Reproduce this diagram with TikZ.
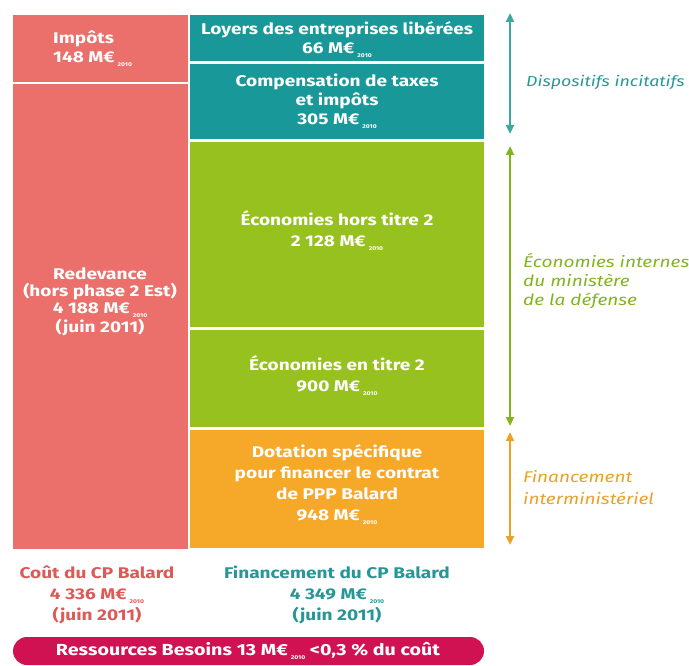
\documentclass[tikz,border=0pt]{standalone}
\usepackage{fontspec}
\setmainfont{Fira Sans}[FakeStretch=1.23]
\usetikzlibrary{arrows.meta}
\definecolor{salmon}{RGB}{235,111,106}
\definecolor{tealb}{RGB}{24,152,152}
\definecolor{greenb}{RGB}{150,193,30}
\definecolor{orangeb}{RGB}{246,168,41}
\definecolor{pillc}{RGB}{208,18,82}
\definecolor{tealt}{RGB}{40,150,150}
\definecolor{tealarr}{RGB}{60,168,158}
\definecolor{greent}{RGB}{130,180,30}
\definecolor{oranget}{RGB}{235,160,40}
\definecolor{salmont}{RGB}{220,90,88}
\newcommand\yr{\hspace{3pt}{\fontsize{5.5}{5.5}\selectfont\raisebox{-4pt}{2010}}}
\begin{document}
\begin{tikzpicture}[x=1pt,y=-1pt,
  boxtxt/.style={text=white,font=\fontsize{15.5}{19}\selectfont\bfseries,align=center,inner sep=0pt},
  sidelbl/.style={font=\fontsize{15.5}{19}\selectfont\itshape,align=left,anchor=west,inner sep=0pt},
  botlbl/.style={font=\fontsize{15.5}{21}\selectfont\bfseries,align=center,inner sep=0pt},
  dblarrow/.style={line width=2.8pt,{Triangle[width=8pt,length=9pt]}-{Triangle[width=8pt,length=9pt]}}]
\useasboundingbox (0,0) rectangle (689,666);
% left column
\fill[salmon] (13,15) rectangle (188,82);
\fill[salmon] (13,84) rectangle (188,549);
% right column
\fill[tealb] (190,15) rectangle (484,61);
\fill[tealb] (190,64) rectangle (484,139);
\fill[greenb] (190,142) rectangle (484,327);
\fill[greenb] (190,330) rectangle (484,427);
\fill[orangeb] (190,430) rectangle (484,548);
% texts in boxes
\node[boxtxt,align=left,anchor=west] (imp) at (53,49) {Impôts\\148 M€\yr};
\node[boxtxt,font=\fontsize{15.5}{17}\selectfont\bfseries] (red) at (100,302) {Redevance\\(hors phase 2 Est)\\4 188 M€\yr\\(juin 2011)};
\node[boxtxt] (loy) at (337,40) {Loyers des entreprises libérées\\66 M€\yr};
\node[boxtxt] (comp) at (337,101) {Compensation de taxes\\et impôts\\305 M€\yr};
\node[boxtxt,font=\fontsize{15.5}{21}\selectfont\bfseries] (eco1) at (337,231) {Économies hors titre 2\\2 128 M€\yr};
\node[boxtxt,font=\fontsize{15.5}{21}\selectfont\bfseries] (eco2) at (337,376) {Économies en titre 2\\900 M€\yr};
\node[boxtxt,font=\fontsize{15.5}{21}\selectfont\bfseries] (dot) at (337,485) {Dotation spécifique\\pour financer le contrat\\de PPP Balard\\948 M€\yr};
% arrows
\coordinate (t1) at (510,13); \coordinate (t2) at (510,134);
\coordinate (g1) at (510,146); \coordinate (g2) at (510,426);
\coordinate (o1) at (510,432); \coordinate (o2) at (510,545);
\draw[dblarrow,tealarr] (t1) -- (t2);
\draw[dblarrow,greent] (g1) -- (g2);
\draw[dblarrow,oranget] (o1) -- (o2);
% side labels
\node[sidelbl,text=tealt,font=\fontsize{14.5}{17}\selectfont\itshape] (lab1) at (526,82) {Dispositifs incitatifs};
\node[sidelbl,text=greent] (lab2) at (523,281) {Économies internes\\du ministère\\de la défense};
\node[sidelbl,text=oranget,font=\fontsize{15.5}{22}\selectfont\itshape] (lab3) at (523,488) {Financement\\interministériel};
% bottom labels
\node[botlbl,text=salmont] (cout) at (97,595) {Coût du CP Balard\\4 336 M€\yr\\(juin 2011)};
\node[botlbl,text=tealt] (fin) at (337,595) {Financement du CP Balard\\4 349 M€\yr\\(juin 2011)};
% pill
\fill[pillc,rounded corners=14pt] (13,637) rectangle (484,665);
\node[botlbl,text=white,font=\fontsize{16}{20}\selectfont\bfseries] (pill) at (248,651) {Ressources Besoins 13 M€\yr\ <0,3 \% du coût};
\end{tikzpicture}
\end{document}
